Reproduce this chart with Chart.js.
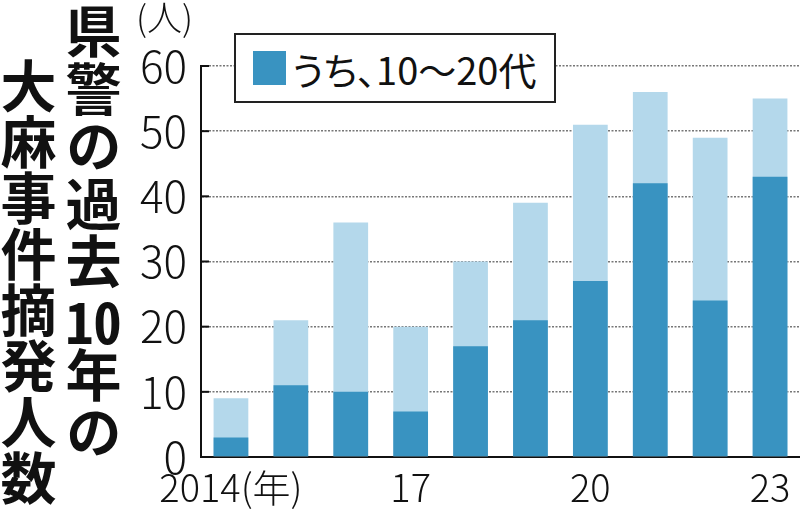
<!DOCTYPE html>
<html lang="ja">
<head>
<meta charset="utf-8">
<script src="https://cdn.jsdelivr.net/npm/chart.js@4.4.1/dist/chart.umd.min.js"></script>
<style>
  body { margin: 0; background: #fff; }
  .wrap { position: relative; width: 800px; height: 510px; overflow: hidden; }
  canvas { position: absolute; left: 0; top: 0; }
  .title {
    position: absolute;
    writing-mode: vertical-rl;
    font-family: "Noto Sans CJK JP", sans-serif;
    font-weight: 700;
    font-size: 56px;
    line-height: 56px;
    color: #111;
    white-space: nowrap;
  }
  .tcy { text-combine-upright: all; }
  .legend {
    position: absolute; left: 234px; top: 33px;
    width: 318px; height: 66px;
    border: 2px solid #222; background: #fff;
    display: flex; align-items: center;
    font-family: "Noto Sans CJK JP", sans-serif; font-size: 38px; font-weight: 400;
    font-feature-settings: "palt"; color: #111;
  }
  .legend i { display: inline-block; width: 33px; height: 34px; margin: 0 6px 0 17px; }
</style>
</head>
<body>
<div class="wrap">
  <canvas id="chart" width="800" height="510"></canvas>
  <div class="title" style="left:65px; top:3px; letter-spacing:1.5px;">県警の過去<span class="tcy">10</span>年の</div>
  <div class="title" style="left:0px; top:58px;">大麻事件摘発人数</div>
  <div class="legend" id="legend"></div>
</div>
<script>
// 県警の過去10年の大麻事件摘発人数
const years = ['2014', '2015', '2016', '2017', '2018', '2019', '2020', '2021', '2022', '2023']
const tickLabels = ['2014(年)', '', '', '17', '', '', '20', '', '', '23']
const total = [9, 21, 36, 20, 30, 39, 51, 56, 49, 55]
const youth = [3, 11, 10, 7, 17, 21, 27, 42, 24, 43]
const yTicks = [0, 10, 20, 30, 40, 50, 60]
const unitLabel = '(人)'
const youthLabel = 'うち、10〜20代'

const darkBlue = '#3993c1'
const lightBlue = '#b4d8eb'
const numFont = '"Noto Sans CJK JP", sans-serif'

// short ticks drawn inside the plot + unit label above the y axis
const innerTicks = {
    id: 'innerTicks',
    afterDraw(chart) {
        const { ctx, scales: { y } } = chart
        ctx.save()
        ctx.strokeStyle = '#111'
        ctx.lineWidth = 2
        yTicks.forEach(v => {
            const py = y.getPixelForValue(v)
            ctx.beginPath()
            ctx.moveTo(y.right, py)
            ctx.lineTo(y.right + 8, py)
            ctx.stroke()
        })
        ctx.fillStyle = '#111'
        ctx.font = '300 35px ' + numFont
        ctx.textAlign = 'right'
        ctx.textBaseline = 'middle'
        ctx.fillText(unitLabel, y.right - 8, 18)
        ctx.restore()
    }
}

const ctx = document.getElementById('chart').getContext('2d')
const chart = new Chart(ctx, {
    type: 'bar',
    data: {
        labels: years,
        datasets: [
            {
                label: youthLabel,
                data: youth,
                backgroundColor: darkBlue,
                grouped: false,
                barPercentage: 0.58,
                categoryPercentage: 1
            },
            {
                label: '計',
                data: total,
                backgroundColor: lightBlue,
                grouped: false,
                barPercentage: 0.58,
                categoryPercentage: 1
            }
        ]
    },
    options: {
        responsive: false,
        animation: false,
        layout: { padding: { top: 66, right: 0, left: 0, bottom: 0 } },
        plugins: {
            legend: { display: false },
            tooltip: { enabled: false }
        },
        scales: {
            x: {
                grid: { display: false },
                border: { color: '#111', width: 2 },
                ticks: {
                    color: '#111',
                    font: { family: numFont, size: 38, weight: 300 },
                    maxRotation: 0,
                    autoSkip: false,
                    padding: 0,
                    callback: (v, i) => tickLabels[i]
                },
                afterFit: s => { s.height = 53 }
            },
            y: {
                min: 0,
                max: 60,
                grid: { color: '#777', lineWidth: 1.5, drawTicks: false },
                border: { color: '#111', width: 2, dash: [2, 1.5] },
                ticks: {
                    stepSize: 10,
                    color: '#111',
                    padding: 14,
                    font: { family: numFont, size: 44, weight: 300 }
                },
                afterFit: s => { s.width = 201 }
            }
        }
    },
    plugins: [innerTicks]
})

// legend box built from the youth dataset
const ds = chart.data.datasets[0]
document.getElementById('legend').innerHTML =
    '<i style="background:' + ds.backgroundColor + '"></i><span>' + ds.label + '</span>'
</script>
</body>
</html>
